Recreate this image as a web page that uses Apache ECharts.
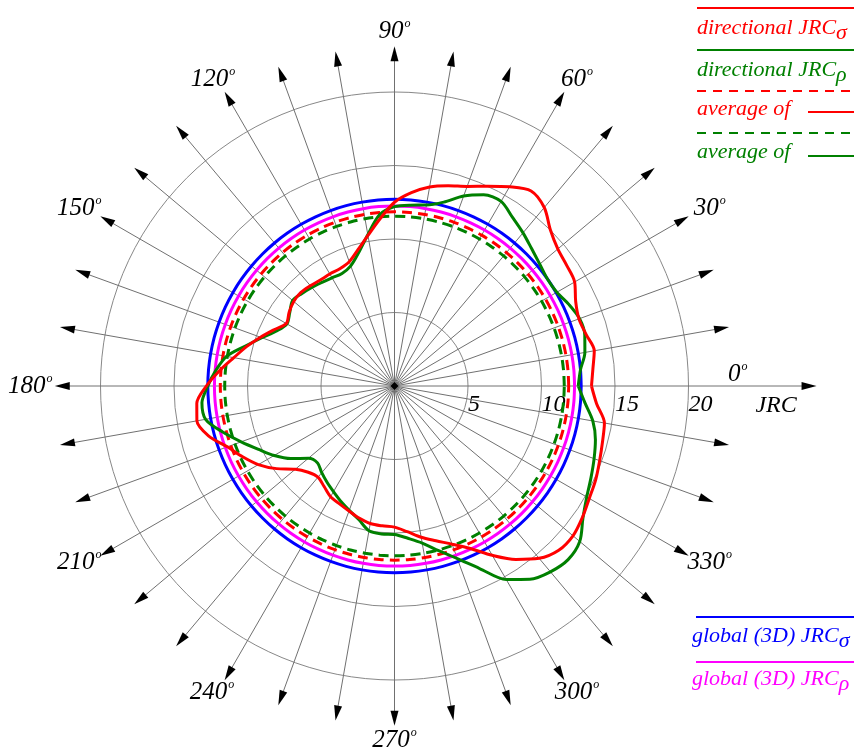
<!DOCTYPE html>
<html>
<head>
<meta charset="utf-8">
<script src="https://cdn.jsdelivr.net/npm/echarts@6/dist/echarts.min.js"></script>
<style>
  html, body { margin: 0; padding: 0; background: #fff; }
  #chart { width: 861px; height: 754px; }
</style>
</head>
<body>
<div id="chart"></div>
<script>
// angles (deg) of the directional readings
const angles = [0, 5, 10, 15, 20, 25, 30, 35, 40, 45, 50, 55, 60, 65, 70, 75, 80, 85, 90,
  95, 100, 105, 110, 115, 120, 125, 130, 135, 140, 145, 150, 155, 160, 165, 170, 175, 180,
  185, 190, 195, 200, 205, 210, 215, 220, 225, 230, 235, 240, 245, 250, 255, 260, 265, 270,
  275, 280, 285, 290, 295, 300, 305, 310, 315, 320, 325, 330, 335, 340, 345, 350, 355, 360]

// directional JRC sigma (red)
const jrcSigma = [13.4, 13.55, 13.8, 13.5, 13.35, 13.6, 14.15, 14.3, 14.5, 15.0, 15.85, 16.2, 15.65,
  15.0, 14.45, 14.1, 13.75, 13.2, 12.5, 11.4, 10.4, 9.6, 9.0, 8.8, 8.8, 8.8, 8.9, 9.0, 8.95,
  8.75, 8.5, 9.05, 9.7, 10.4, 11.1, 11.95, 12.8, 13.5, 13.65, 13.1, 12.1, 11.4, 10.7, 9.8,
  8.8, 8.3, 8.1, 8.35, 8.7, 8.85, 9.05, 9.3, 9.5, 9.55, 9.6, 9.95, 10.45, 10.9, 11.45, 12.2,
  13.3, 14.4, 15.3, 15.8, 15.85, 15.6, 15.3, 15.1, 14.85, 14.65, 14.5, 13.8, 13.4]

// directional JRC rho (green)
const jrcRho = [12.5, 12.7, 13.15, 13.4, 13.4, 13.1, 12.75, 12.7, 12.9, 13.2, 13.6, 14.0, 14.5,
  14.35, 13.75, 12.95, 12.5, 12.35, 12.2, 11.7, 10.45, 9.4, 8.7, 8.45, 8.5, 8.6, 8.75, 8.9,
  9.05, 8.7, 8.45, 8.85, 9.6, 10.5, 11.6, 12.2, 12.7, 13.15, 13.05, 12.1, 11.1, 10.2, 9.45,
  8.6, 7.65, 7.4, 7.7, 8.0, 8.3, 8.65, 9.0, 9.4, 10.0, 10.1, 10.1, 10.4, 10.85, 11.6, 12.5,
  13.7, 15.2, 16.05, 16.5, 16.7, 16.45, 15.65, 15.1, 14.75, 14.45, 14.15, 13.7, 13.0, 12.5]

const avgSigma = 11.85
const avgRho = 11.55
const globalSigma = 12.7
const globalRho = 12.25

const radiusTicks = [5, 10, 15, 20]
const angleTicks = [0, 30, 60, 90, 120, 150, 180, 210, 240, 270, 300, 330]
const spokeAngles = [0, 10, 20, 30, 40, 50, 60, 70, 80, 90, 100, 110, 120, 130, 140, 150, 160, 170,
  180, 190, 200, 210, 220, 230, 240, 250, 260, 270, 280, 290, 300, 310, 320, 330, 340, 350]

const SERIF = "'Liberation Serif', 'DejaVu Serif', serif"
const axisMax = 28.5       // the 0 deg JRC axis reaches this far
const spokeLen = 22.6      // where the spoke arrows sit
const labelR = 24.3
const pxPerUnit = 14.7

const chart = echarts.init(document.getElementById('chart'))

// constant circle over all angles
const ring = (v) => angles.map(a => [v, a])
const curve = (vals) => angles.map((a, i) => [vals[i], a])

const spokes = spokeAngles.map(a => ({
  type: 'line',
  coordinateSystem: 'polar',
  silent: true,
  z: 1,
  lineStyle: { color: '#707070', width: 1 },
  itemStyle: { color: '#000' },
  data: [
    { value: [0, a], symbol: 'none' },
    { value: [a === 0 ? axisMax - 0.3 : spokeLen, a], symbol: 'triangle', symbolSize: [8, 15], symbolRotate: a - 90 }
  ]
}))

const rich = {
  n: { fontFamily: SERIF, fontStyle: 'italic', fontSize: 25, color: '#000' },
  o: { fontFamily: SERIF, fontStyle: 'italic', fontSize: 12, color: '#000', padding: [0, 0, 15, 1] }
}

// nudge the angle labels a little so they sit like the original ones
const labelOffset = (a) => {
  if (a === 0) return [-14, -12]
  const t = a * Math.PI / 180
  return [Math.round(7 * Math.cos(t)), Math.round(3 * Math.sin(t))]
}

const angleLabels = {
  type: 'scatter',
  coordinateSystem: 'polar',
  silent: true,
  symbolSize: 0,
  itemStyle: { opacity: 1 },
  data: angleTicks.map(a => ({
    value: [labelR, a],
    label: { offset: labelOffset(a) }
  })),
  label: {
    show: true,
    position: 'inside',
    color: '#000',
    opacity: 1,
    formatter: (p) => `{n|${p.value[1]}}{o|o}`,
    rich
  }
}

const lineSeries = (name, data, color, type, z) => ({
  name,
  type: 'line',
  coordinateSystem: 'polar',
  showSymbol: false,
  smooth: 0.3,
  z,
  lineStyle: { color, width: 3, type },
  data
})

const legendText = (x, y, text, color) => ({
  type: 'text', x, y,
  style: {
    text, fill: color, verticalAlign: 'middle',
    rich: {
      t: { fontFamily: SERIF, fontStyle: 'italic', fontSize: 22, fill: color },
      s: { fontFamily: SERIF, fontStyle: 'italic', fontSize: 22, fill: color, padding: [10, 0, 0, 0] }
    }
  }
})
const legendLine = (x1, x2, y, color, dash) => ({
  type: 'line',
  shape: { x1, y1: y, x2, y2: y },
  style: { stroke: color, lineWidth: 2, lineDash: dash || null }
})

const gridColor = '#888'
const noLine = 'rgba(0,0,0,0)'

const option = {
  animation: false,
  backgroundColor: '#fff',
  polar: { center: [394.5, 386], radius: axisMax * pxPerUnit },
  angleAxis: {
    type: 'value', min: 0, max: 360, startAngle: 0, clockwise: false,
    axisLine: { show: false }, axisTick: { show: false }, axisLabel: { show: false },
    splitLine: { show: false }
  },
  radiusAxis: {
    type: 'value', min: 0, max: axisMax, interval: 5,
    axisLine: { show: false }, axisTick: { show: false },
    // circles only at 5..20; 25 and the axis end are hidden
    splitLine: { show: true, lineStyle: { color: [gridColor, gridColor, gridColor, gridColor, gridColor, noLine, noLine], width: 1 } },
    name: 'JRC', nameLocation: 'end', nameGap: -58,
    nameTextStyle: { fontFamily: SERIF, fontStyle: 'italic', fontSize: 24, color: '#000', align: 'left', verticalAlign: 'top', padding: [8, 0, 0, 0] },
    axisLabel: {
      fontFamily: SERIF, fontStyle: 'italic', fontSize: 24, color: '#000',
      align: 'left', verticalAlign: 'top', padding: [15, 0, 0, 0],
      formatter: (v) => radiusTicks.includes(v) ? String(v) : ''
    }
  },
  graphic: [
    legendLine(697, 854, 8, '#f00'),
    legendText(697, 28, '{t|directional JRC}{s|σ}', '#f00'),
    legendLine(697, 854, 50, '#008000'),
    legendText(697, 70, '{t|directional JRC}{s|ρ}', '#008000'),
    legendLine(697, 854, 91, '#f00', [9, 7]),
    legendText(697, 109, '{t|average of}', '#f00'),
    legendLine(808, 854, 112, '#f00'),
    legendLine(697, 854, 133, '#008000', [9, 7]),
    legendText(697, 152, '{t|average of}', '#008000'),
    legendLine(808, 854, 156, '#008000'),
    legendLine(696, 854, 617, '#00f'),
    legendText(692, 636, '{t|global (3D) JRC}{s|σ}', '#00f'),
    legendLine(696, 854, 662, '#f0f'),
    legendText(692, 679, '{t|global (3D) JRC}{s|ρ}', '#f0f')
  ],
  series: [
    ...spokes,
    {
      type: 'scatter', coordinateSystem: 'polar', silent: true, z: 2,
      symbol: 'diamond', symbolSize: 8, itemStyle: { color: '#000', opacity: 1 },
      data: [[0, 0]]
    },
    angleLabels,
    lineSeries('global sigma', ring(globalSigma), '#0000ff', 'solid', 3),
    lineSeries('global rho', ring(globalRho), '#ff00ff', 'solid', 3),
    lineSeries('average sigma', ring(avgSigma), '#ff0000', [10, 6], 3),
    lineSeries('average rho', ring(avgRho), '#008000', [10, 6], 3),
    lineSeries('directional rho', curve(jrcRho), '#008000', 'solid', 4),
    lineSeries('directional sigma', curve(jrcSigma), '#ff0000', 'solid', 5)
  ]
}

chart.setOption(option)
</script>
</body>
</html>
